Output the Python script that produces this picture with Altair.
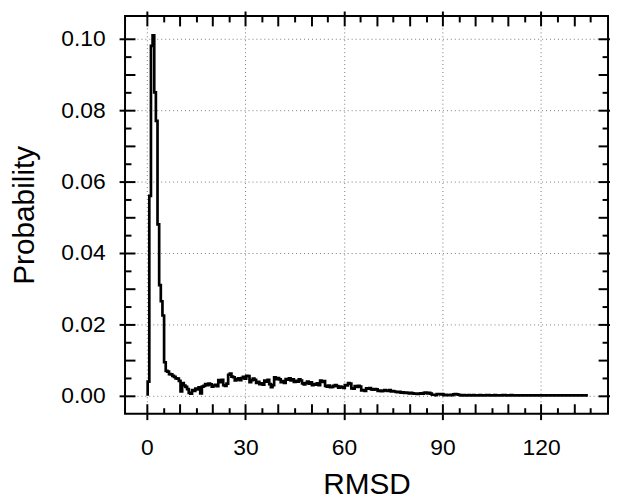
import altair as alt
import pandas as pd

# ---- data ----
BIN_START = 0.25
BIN_WIDTH = 0.5
# probability per bin, in units of 1e-3
prob_permille = [
    4.0, 56, 98, 101, 85, 77, 48, 31, 26.5, 22.5, 9.4, 7.0, 6.8, 6.1, 6.0, 5.6, 5.3, 4.9, 4.8, 4.2,
    1.2, 3.6, 2.9, 2.5, 1.9, 0.8, 0.6, 1.6, 1.4, 2.0, 1.8, 2.4, 0.7, 2.6, 2.8, 3.3, 3.0, 3.4, 3.2, 2.6,
    2.9, 3.1, 2.7, 4.4, 3.8, 4.5, 3.0, 2.8, 3.4, 5.9, 6.2, 5.4, 5.2, 4.3, 4.6, 4.9, 4.4, 5.0, 5.3, 4.8,
    5.6, 5.5, 3.8, 4.4, 4.8, 4.5, 3.6, 3.9, 3.3, 3.5, 3.1, 4.3, 4.0, 4.5, 3.3, 2.4, 3.0, 5.2, 4.7, 5.0,
    4.6, 3.8, 4.1, 3.6, 4.7, 4.5, 4.9, 4.3, 4.6, 3.9, 4.2, 4.0, 4.6, 4.3, 3.5, 3.2, 3.6, 4.0, 3.4, 3.8,
    3.0, 3.3, 3.1, 3.5, 3.0, 4.3, 3.9, 4.1, 2.8, 2.6, 2.9, 2.4, 2.5, 2.8, 3.0, 2.7, 2.3, 2.6, 2.4, 2.2,
    3.0, 2.9, 3.6, 3.4, 2.1, 2.0, 2.7, 2.5, 2.8, 2.6, 1.5, 1.6, 1.4, 2.1, 2.0, 2.2, 1.8, 1.7, 1.9, 1.8,
    1.4, 1.5, 1.3, 1.4, 1.6, 1.5, 1.4, 1.6, 1.2, 1.3, 1.2, 1.1, 1.0, 1.1, 0.9, 1.0, 0.8, 0.9, 0.8, 0.7,
    0.8, 0.7, 0.6, 0.6, 0.5, 0.6, 0.7, 0.6, 0.8, 0.9, 0.7, 0.8, 0.6, 0.3, 0.3, 0.2, 0.5, 0.5, 0.4, 0.5,
    0.2, 0.3, 0.2, 0.2, 0.3, 0.2, 0.4, 0.5, 0.4, 0.3, 0.2, 0.1, 0.2, 0.1, 0.1, 0.2, 0.1, 0.1, 0.2, 0.1,
    0.1, 0.1, 0.2, 0.1, 0.1, 0.1, 0.2, 0.2, 0.1, 0.1, 0.1, 0.2, 0.1, 0.1, 0.1, 0.1, 0.2, 0.2, 0.1, 0.1,
    0.1, 0.2, 0.1, 0.1, 0.1, 0.1, 0.1, 0.1, 0.1, 0.1, 0.1, 0.1, 0.1, 0.1, 0.1, 0.1, 0.1, 0.1, 0.1, 0.1,
    0.1, 0.1, 0.1, 0.1, 0.1, 0.1, 0.1, 0.1, 0.1, 0.1, 0.1, 0.1, 0.1, 0.1, 0.1, 0.1, 0.1, 0.1, 0.1, 0.1,
    0.1, 0.1, 0.1, 0.1, 0.1, 0.1, 0.1, 0.1,
]

x_major = [0, 30, 60, 90, 120]
x_mid = [0, 10, 20, 30, 40, 50, 60, 70, 80, 90, 100, 110, 120, 130]
x_minor = [5, 15, 25, 35, 45, 55, 65, 75, 85, 95, 105, 115, 125, 135]
y_major = [0.0, 0.02, 0.04, 0.06, 0.08, 0.10]
y_mid = [0.0, 0.01, 0.02, 0.03, 0.04, 0.05, 0.06, 0.07, 0.08, 0.09, 0.10]
y_minor = [0.005, 0.015, 0.025, 0.035, 0.045, 0.055, 0.065, 0.075, 0.085, 0.095]

starts = [BIN_START + BIN_WIDTH * i for i in range(len(prob_permille))]
xs = [BIN_START] + starts + [starts[-1] + BIN_WIDTH]
ys = [0.0] + [v / 1000 for v in prob_permille] + [prob_permille[-1] / 1000]
df = pd.DataFrame({"rmsd": xs, "probability": ys, "order": list(range(len(xs)))})

FONT = "Liberation Sans"
xscale = alt.Scale(domain=[-6.64, 140.38], nice=False, zero=False)
yscale = alt.Scale(domain=[-0.005, 0.1064], nice=False, zero=False)

tick_common = dict(domain=False, tickColor="black", tickWidth=2, grid=False,
                   labels=False, title=None)


def ticks_axis(orient, values, size, offset):
    return alt.Axis(orient=orient, values=values, tickSize=size, offset=offset, **tick_common)


x_main = alt.Axis(
    orient="bottom", values=x_major, tickSize=6, offset=0, domain=False,
    tickColor="black", tickWidth=2,
    grid=True, gridDash=[1, 3], gridColor="#7a7a7a", gridWidth=1,
    labels=True, labelFont=FONT, labelFontSize=23, labelColor="black",
    labelPadding=17, labelFlush=False,
    title="RMSD", titleFont=FONT, titleFontSize=30, titleFontWeight="normal",
    titleColor="black", titleY=80, titleBaseline="alphabetic",
)
y_main = alt.Axis(
    orient="left", values=y_major, format=".2f", tickSize=6, offset=0, domain=False,
    tickColor="black", tickWidth=2,
    grid=True, gridDash=[1, 3], gridColor="#7a7a7a", gridWidth=1,
    labels=True, labelFont=FONT, labelFontSize=23, labelColor="black",
    labelPadding=14, labelFlush=False,
    title="Probability", titleFont=FONT, titleFontSize=30, titleFontWeight="normal",
    titleColor="black", titleX=-92, titleBaseline="alphabetic",
)


def layer(xaxis, yaxis, visible):
    return alt.Chart(df).mark_line(
        interpolate="step-after", color="black", strokeWidth=2.7,
        opacity=1 if visible else 0,
    ).encode(
        x=alt.X("rmsd:Q", scale=xscale, axis=xaxis),
        y=alt.Y("probability:Q", scale=yscale, axis=yaxis),
        order="order:Q",
    )


layers = [
    layer(x_main, y_main, True),
    layer(ticks_axis("bottom", x_mid, 10, -10), ticks_axis("left", y_mid, 10, -10), False),
    layer(ticks_axis("bottom", x_minor, 6, -6), ticks_axis("left", y_minor, 6, -6), False),
    layer(ticks_axis("top", x_major, 5, 0), ticks_axis("right", y_major, 5, 0), False),
    layer(ticks_axis("top", x_mid, 10, -10), ticks_axis("right", y_mid, 10, -10), False),
    layer(ticks_axis("top", x_minor, 6, -6), ticks_axis("right", y_minor, 6, -6), False),
]

chart = alt.layer(*layers).resolve_axis(
    x="independent", y="independent"
).properties(
    width=487, height=401,
    autosize=alt.AutoSizeParams(type="none"),
    padding={"left": 118, "top": 6, "right": 2, "bottom": 84},
    background="white",
).configure_view(stroke="black", strokeWidth=2)

chart.save("out.html", embed_options={"renderer": "svg", "actions": False})
